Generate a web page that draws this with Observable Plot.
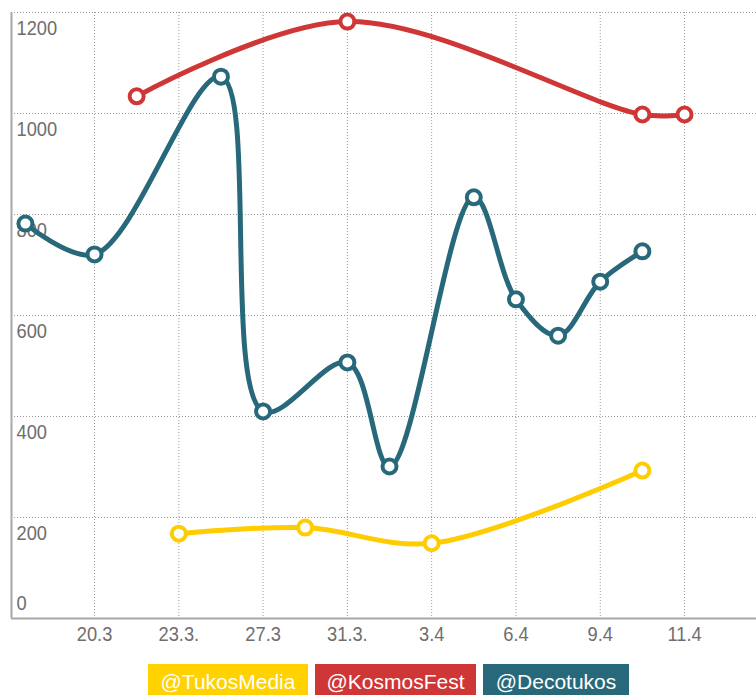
<!DOCTYPE html>
<html>
<head>
<meta charset="utf-8">
<script src="https://cdn.jsdelivr.net/npm/d3@7"></script>
<script src="https://cdn.jsdelivr.net/npm/@observablehq/plot@0.6"></script>
<style>
  html, body { margin: 0; padding: 0; background: #fff; overflow: hidden; }
  #legend { display: flex; margin-left: 148px; margin-top: 8px; gap: 7px; }
  #legend .box { height: 36px; line-height: 36px; text-align: center; overflow: hidden; }
  #legend .box span { display: inline-block; color: #fff; font-family: "Liberation Sans", Arial, sans-serif; font-size: 21px; }
</style>
</head>
<body>
<div id="chart"></div>
<div id="legend"></div>
<script>
// Category labels on the x axis (positions 0..7)
const xLabels = ["20.3", "23.3.", "27.3", "31.3.", "3.4", "6.4", "9.4", "11.4"];
const yTicks = [0, 200, 400, 600, 800, 1000, 1200];

const seriesNames = ["@TukosMedia", "@KosmosFest", "@Decotukos"];
const seriesColors = ["#FFCC00", "#CF3636", "#27697A"];
const legendColors = ["#FFD200", "#CF3636", "#27697A"];
const legendWidths = [160, 161, 146];

// x positions are in category units (gridline index)
const tukosX = [1, 2.5, 4, 6.5];
const tukosY = [168, 180, 149, 293];

const kosmosX = [0.5, 3, 6.5, 7];
const kosmosY = [1034, 1182, 998, 998];

const decoX = [-0.82, 0, 1.5, 2, 3, 3.5, 4.5, 5, 5.5, 6, 6.5];
const decoY = [782, 721, 1073, 410, 507, 301, 834, 632, 560, 667, 727];

const rows = [];
[[tukosX, tukosY], [kosmosX, kosmosY], [decoX, decoY]].forEach(([xs, ys], i) => {
  xs.forEach((x, j) => rows.push({series: seriesNames[i], x, y: ys[j]}));
});

const font = '"Liberation Sans", Arial, sans-serif';
const labelColor = "#6e6e6e";
const xLeft = -0.985;

const chart = Plot.plot({
  width: 756,
  height: 656,
  marginLeft: 11,
  marginRight: 0,
  marginTop: 12,
  marginBottom: 38,
  style: {fontFamily: font, fontSize: "21px", color: labelColor, background: "#fff", overflow: "visible"},
  x: {type: "linear", domain: [xLeft, 7.854], axis: null},
  y: {domain: [0, 1200], axis: null},
  color: {domain: seriesNames, range: seriesColors},
  marks: [
    Plot.ruleY(yTicks.filter(d => d > 0), {stroke: "#9a9a9a", strokeWidth: 1, strokeDasharray: "1,2"}),
    Plot.ruleX(d3.range(xLabels.length), {stroke: "#9a9a9a", strokeWidth: 1, strokeDasharray: "1,2"}),
    Plot.ruleX([xLeft], {stroke: "#a8a8a8", strokeWidth: 2}),
    Plot.ruleY([0], {stroke: "#a8a8a8", strokeWidth: 2}),
    Plot.text(d3.range(xLabels.length), {x: d => d, y: 0, text: i => xLabels[i], dy: 22, fill: labelColor, fontSize: 21}),
    Plot.text(yTicks.filter(d => d > 0), {x: xLeft, y: d => d, text: d => String(d), dx: 5, dy: 22, textAnchor: "start", fill: labelColor, fontSize: 21}),
    Plot.text([0], {x: xLeft, y: d => d, text: d => String(d), dx: 5, dy: -9, textAnchor: "start", fill: labelColor, fontSize: 21}),
    Plot.line(rows, {x: "x", y: "y", z: "series", stroke: "series", strokeWidth: 5, curve: "catmull-rom"}),
    Plot.dot(rows, {x: "x", y: "y", stroke: "series", fill: "#fff", r: 7, strokeWidth: 4})
  ]
});

// condense the label glyphs horizontally (narrow typeface look)
chart.querySelectorAll("text").forEach(t => {
  let tr = t.getAttribute("transform") || "";
  if (t.hasAttribute("x") || t.hasAttribute("y")) {
    const x = +t.getAttribute("x") || 0, y = +t.getAttribute("y") || 0;
    t.removeAttribute("x"); t.removeAttribute("y");
    tr = `${tr} translate(${x},${y})`;
  }
  t.setAttribute("transform", `${tr} scale(0.87,1)`);
});

document.getElementById("chart").appendChild(chart);

const legend = document.getElementById("legend");
seriesNames.forEach((n, i) => {
  const b = document.createElement("div");
  b.className = "box";
  b.style.background = legendColors[i];
  b.style.width = legendWidths[i] + "px";
  const s = document.createElement("span");
  s.textContent = n;
  b.appendChild(s);
  legend.appendChild(b);
});
</script>
</body>
</html>
